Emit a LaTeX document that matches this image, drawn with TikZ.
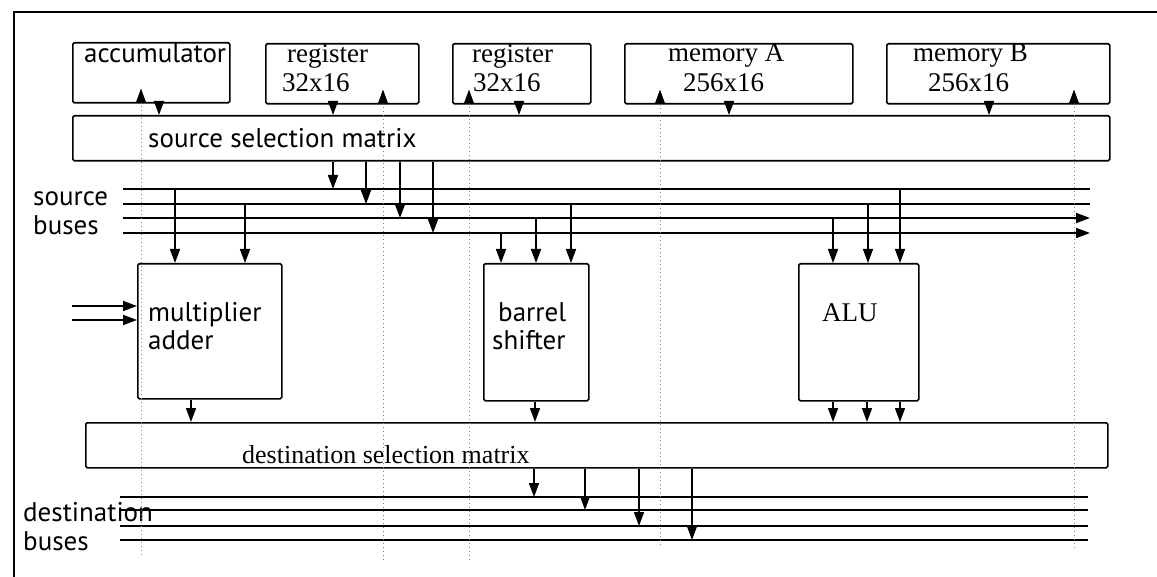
\documentclass[tikz,border=0pt]{standalone}
\usepackage{fontspec}
\setmainfont{Liberation Serif}
\newfontfamily\optfont{PT Sans}
\usetikzlibrary{arrows.meta}
\begin{document}
\begin{tikzpicture}[x=1pt,y=-1pt,
  box/.style={draw, line width=1.6pt, rounded corners=1.5pt, inner sep=0pt, anchor=north west},
  arr/.style={line width=1.6pt, -{Triangle[length=14pt,width=10pt]}},
  bus/.style={line width=1.6pt},
  ret/.style={line width=0.9pt, gray, dash pattern=on 1pt off 3pt, -{Triangle[length=14pt,width=10pt,color=black]}},
  tm/.style={anchor=base west, inner sep=0pt, font=\fontsize{27}{29}\selectfont},
  op/.style={anchor=base west, inner sep=0pt, font=\optfont\fontsize{27}{29}\selectfont}]
\useasboundingbox (0,0) rectangle (1157,577);
% outer frame
\coordinate (fbl) at (14,577);
\coordinate (ftl) at (14,12);
\coordinate (ftr) at (1157,12);
\draw[line width=1.2pt] (fbl) -- (ftl) -- (ftr);

% top row boxes
\node[box, minimum width=157pt, minimum height=60pt] (acc) at (72,42) {};
\node[box, minimum width=153pt, minimum height=60pt] (reg1) at (265,43) {};
\node[box, minimum width=138pt, minimum height=60pt] (reg2) at (452,43) {};
\node[box, minimum width=228pt, minimum height=60pt] (mema) at (624,43) {};
\node[box, minimum width=223pt, minimum height=60pt] (memb) at (886,43) {};
\node[box, minimum width=1037pt, minimum height=45pt] (ssm) at (72,115) {};
\node[box, minimum width=144pt, minimum height=135pt] (mul) at (137,263) {};
\node[box, minimum width=105pt, minimum height=137pt] (bsh) at (483,263) {};
\node[box, minimum width=120pt, minimum height=137pt] (alu) at (798,263) {};
\node[box, minimum width=1022pt, minimum height=45pt] (dsm) at (85,422) {};

% texts
\node[op] (tacc) at (84,63) {accumulator};
\node[tm] (treg1) at (287,63) {register};
\node[tm] (tsz1) at (282,92) {32x16};
\node[tm] (treg2) at (472,63) {register};
\node[tm] (tsz2) at (473,92) {32x16};
\node[tm] (tmema) at (668,62) {memory A};
\node[tm] (tsza) at (683,92) {256x16};
\node[tm] (tmemb) at (913,62) {memory B};
\node[tm] (tszb) at (928,92) {256x16};
\node[op] (tssm) at (148,148) {source selection matrix};
\node[op] (tsrc) at (33,206) {source};
\node[op] (tsbus) at (33,235) {buses};
\node[op] (tmul) at (148,322) {multiplier};
\node[op] (tadd) at (148,350) {adder};
\node[op] (tbar) at (498,322) {barrel};
\node[op] (tshf) at (492,350) {shifter};
\node[tm] (talu) at (822,322) {ALU};
\node[tm, font=\fontsize{26}{28}\selectfont] (tdsm) at (242,463) {destination selection matrix};
\node[op] (tdst) at (23,521) {destination};
\node[op] (tdbus) at (23,550) {buses};

% source buses
\coordinate (sb1w) at (123,189); \coordinate (sb1e) at (1090,189);
\coordinate (sb2w) at (123,204); \coordinate (sb2e) at (1090,204);
\coordinate (sb3w) at (123,218); \coordinate (sb3e) at (1090,218);
\coordinate (sb4w) at (123,233); \coordinate (sb4e) at (1090,233);
\draw[bus] (sb1w) -- (sb1e);
\draw[bus] (sb2w) -- (sb2e);
\draw[arr] (sb3w) -- (sb3e);
\draw[arr] (sb4w) -- (sb4e);

% destination buses
\coordinate (db1w) at (120,497); \coordinate (db1e) at (1088,497);
\coordinate (db2w) at (120,510); \coordinate (db2e) at (1088,510);
\coordinate (db3w) at (120,526); \coordinate (db3e) at (1088,526);
\coordinate (db4w) at (120,540); \coordinate (db4e) at (1088,540);
\foreach \i in {1,2,3,4} \draw[bus] (db\i w) -- (db\i e);

% dotted return paths with up arrows into the storage units
\draw[ret] (141,555) -- (acc.south -| 141,0) -- ++(0,-15);
\draw[ret] (383,560) -- (reg1.south -| 383,0) -- ++(0,-15);
\draw[ret] (469,560) -- (reg2.south -| 469,0) -- ++(0,-15);
\draw[ret] (660,545) -- (mema.south -| 660,0) -- ++(0,-15);
\draw[ret] (1074,548) -- (memb.south -| 1074,0) -- ++(0,-15);

% storage units down into source selection matrix
\draw[arr] (acc.south -| 159,0) -- (ssm.north -| 159,0);
\draw[arr] (reg1.south -| 333,0) -- (ssm.north -| 333,0);
\draw[arr] (reg2.south -| 519,0) -- (ssm.north -| 519,0);
\draw[arr] (mema.south -| 729,0) -- (ssm.north -| 729,0);
\draw[arr] (memb.south -| 989,0) -- (ssm.north -| 989,0);

% source selection matrix onto buses
\draw[arr] (ssm.south -| 333,0) -- (sb1w -| 333,0);
\draw[arr] (ssm.south -| 366,0) -- (sb2w -| 366,0);
\draw[arr] (ssm.south -| 400,0) -- (sb3w -| 400,0);
\draw[arr] (ssm.south -| 433,0) -- (sb4w -| 433,0);

% buses into units
\draw[arr] (sb1w -| 175,0) -- (mul.north -| 175,0);
\draw[arr] (sb2w -| 245,0) -- (mul.north -| 245,0);
\draw[arr] (sb4w -| 501,0) -- (bsh.north -| 501,0);
\draw[arr] (sb3w -| 536,0) -- (bsh.north -| 536,0);
\draw[arr] (sb2w -| 571,0) -- (bsh.north -| 571,0);
\draw[arr] (sb3w -| 833,0) -- (alu.north -| 833,0);
\draw[arr] (sb2w -| 868,0) -- (alu.north -| 868,0);
\draw[arr] (sb1w -| 900,0) -- (alu.north -| 900,0);

% external inputs to multiplier
\coordinate (in1) at (72,306);
\coordinate (in2) at (72,320);
\draw[arr] (in1) -- (mul.west |- in1);
\draw[arr] (in2) -- (mul.west |- in2);

% unit outputs into destination selection matrix
\draw[arr] (mul.south -| 191,0) -- (dsm.north -| 191,0);
\draw[arr] (bsh.south -| 535,0) -- (dsm.north -| 535,0);
\draw[arr] (alu.south -| 833,0) -- (dsm.north -| 833,0);
\draw[arr] (alu.south -| 867,0) -- (dsm.north -| 867,0);
\draw[arr] (alu.south -| 900,0) -- (dsm.north -| 900,0);

% destination selection matrix onto destination buses
\draw[arr] (dsm.south -| 534,0) -- (db1w -| 534,0);
\draw[arr] (dsm.south -| 585,0) -- (db2w -| 585,0);
\draw[arr] (dsm.south -| 639,0) -- (db3w -| 639,0);
\draw[arr] (dsm.south -| 692,0) -- (db4w -| 692,0);
\end{tikzpicture}
\end{document}
